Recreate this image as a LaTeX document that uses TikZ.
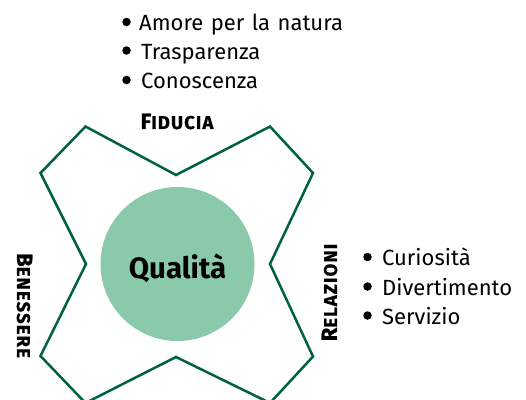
\documentclass[tikz,border=0pt]{standalone}
\usepackage{fontspec}
\setmainfont{Fira Sans}
\newfontfamily\heavyf{Fira Sans}[UprightFont=* Bold]
\newfontfamily\capf{Fira Sans}[UprightFont=* Bold,LetterSpace=6,FakeBold=0.8]
\definecolor{rim}{HTML}{00613F}
\definecolor{disc}{HTML}{8ACAAA}
\newcommand{\capsize}[2]{{\capf\fontsize{22}{24}\selectfont #1\fontsize{18.5}{24}\selectfont #2}}
\tikzset{
  item/.style={anchor=base west,inner sep=0pt,font=\fontsize{22}{26}\selectfont},
  dot/.style={circle,fill=black,inner sep=0pt,minimum size=8.5pt},
  head/.style={inner sep=0pt,text=black},
  rimline/.style={draw=rim,line width=2.5pt,line join=miter}
}
\begin{document}
\begin{tikzpicture}[x=1pt,y=-1pt]
\useasboundingbox (0,0) rectangle (526,399);
\begin{scope}
\clip (0,0) rectangle (526,399);
\coordinate (p1) at (85.5,126.5);
\coordinate (p2) at (176,175);
\coordinate (p3) at (270,126.5);
\coordinate (p4) at (313,173);
\coordinate (p5) at (270,264);
\coordinate (p6) at (313,356.5);
\coordinate (p7) at (270,403);
\coordinate (p8) at (176,357);
\coordinate (p9) at (85.5,403);
\coordinate (p10) at (40.5,356);
\coordinate (p11) at (86,264);
\coordinate (p12) at (40.5,173);
\draw[rimline] (p1) -- (p2) -- (p3) -- (p4) -- (p5) -- (p6) -- (p7) -- (p8) -- (p9) -- (p10) -- (p11) -- (p12) -- cycle;
\end{scope}
\node[circle,fill=disc,inner sep=0pt,minimum size=154pt] (core) at (177.5,264) {};
\node[inner sep=0pt,font=\heavyf\fontsize{29.5}{32}\selectfont] (title) at (177.5,268) {Qualità};
\node[head,anchor=center] (fid) at (177,121.5) {\capsize{F}{IDUCIA}};
\node[head,rotate=-90] (ben) at (24.5,305.5) {\capsize{B}{ENESSERE}};
\node[head,rotate=90] (rel) at (329.5,292.5) {\capsize{R}{ELAZIONI}};
\node[dot] (d1) at (126.5,22) {};
\node[dot] (d2) at (126.5,50.5) {};
\node[dot] (d3) at (126.5,80) {};
\node[item] (t1) at (139,30) {\spaceskip=7.5pt Amore per la natura};
\node[item] (t2) at (141,59) {Trasparenza};
\node[item] (t3) at (141,88) {Conoscenza};
\node[dot] (d4) at (367.5,257) {};
\node[dot] (d5) at (367.5,286.5) {};
\node[dot] (d6) at (367.5,315.5) {};
\node[item] (t4) at (382,265) {Curiosità};
\node[item] (t5) at (382,295) {Divertimento};
\node[item] (t6) at (382,324) {Servizio};
\end{tikzpicture}
\end{document}
